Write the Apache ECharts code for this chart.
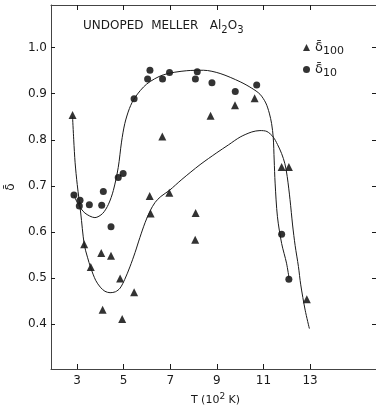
<!DOCTYPE html>
<html>
<head>
<meta charset="utf-8">
<script src="https://cdn.jsdelivr.net/npm/echarts@6/dist/echarts.min.js"></script>
<style>
  html, body { margin: 0; padding: 0; background: #fff; }
  #chart { width: 376px; height: 406px; }
</style>
</head>
<body>
<div id="chart"></div>
<script>
// measured points, [T (10^2 K), delta]
const d10Points = [
  [2.87, 0.680], [3.13, 0.669], [3.10, 0.656], [3.53, 0.659], [4.06, 0.658],
  [4.13, 0.688], [4.46, 0.611], [4.77, 0.718], [4.98, 0.727], [5.45, 0.889],
  [6.03, 0.932], [6.13, 0.951], [6.67, 0.932], [6.97, 0.946], [8.08, 0.932],
  [8.16, 0.948], [8.79, 0.924], [9.79, 0.905], [10.71, 0.919], [11.78, 0.595],
  [12.09, 0.497]
];
const d100Points = [
  [2.81, 0.854], [3.31, 0.573], [3.59, 0.524], [4.04, 0.554], [4.46, 0.548],
  [4.10, 0.431], [4.85, 0.499], [4.94, 0.411], [5.45, 0.469], [6.12, 0.678],
  [6.16, 0.640], [6.66, 0.807], [6.96, 0.685], [8.07, 0.583], [8.09, 0.641],
  [8.73, 0.852], [9.78, 0.875], [10.62, 0.890], [11.78, 0.741], [12.09, 0.741],
  [12.86, 0.454]
];
// hand drawn fit curves
const curve10 = [
  [2.87, 0.680], [3.05, 0.660], [3.34, 0.641], [3.77, 0.631], [4.10, 0.640],
  [4.35, 0.660], [4.56, 0.690], [4.77, 0.740], [4.91, 0.795], [5.05, 0.835],
  [5.25, 0.868], [5.49, 0.892], [5.99, 0.921], [6.70, 0.941], [7.71, 0.950],
  [8.43, 0.951], [9.14, 0.944], [10.0, 0.926], [10.5, 0.912], [10.85, 0.899],
  [11.10, 0.880], [11.25, 0.858], [11.35, 0.835], [11.42, 0.805], [11.46, 0.756],
  [11.50, 0.706], [11.60, 0.633], [11.78, 0.575], [11.99, 0.532], [12.10, 0.499]
];
const curve100 = [
  [2.81, 0.850], [2.86, 0.800], [2.92, 0.750], [3.01, 0.703], [3.16, 0.641],
  [3.31, 0.573], [3.45, 0.545], [3.59, 0.522], [3.80, 0.495], [4.00, 0.480],
  [4.20, 0.471], [4.42, 0.468], [4.65, 0.470], [4.85, 0.478], [5.05, 0.497],
  [5.27, 0.524], [5.49, 0.555], [5.70, 0.588], [5.92, 0.620], [6.13, 0.645],
  [6.35, 0.664], [6.60, 0.677], [6.96, 0.690], [7.50, 0.714], [8.28, 0.746],
  [9.00, 0.772], [9.50, 0.789], [10.0, 0.806], [10.5, 0.817], [10.85, 0.820],
  [11.15, 0.818], [11.42, 0.806], [11.60, 0.790], [11.78, 0.770], [11.92, 0.748],
  [12.02, 0.720], [12.14, 0.670], [12.25, 0.615], [12.36, 0.570], [12.50, 0.525],
  [12.60, 0.485], [12.79, 0.430], [12.97, 0.390]
];
const xTicks = [3, 5, 7, 9, 11, 13];
const yTicks = [0.4, 0.5, 0.6, 0.7, 0.8, 0.9, 1.0];

const FONT = 'DejaVu Sans';
const INK = '#1a1a1a';

const chart = echarts.init(document.getElementById('chart'), null, { renderer: 'canvas' });

const xBase = {
  type: 'value',
  min: 1.885,
  max: 16,
  splitLine: { show: false },
  axisLine: { show: true, lineStyle: { color: '#444', width: 1 } },
  axisTick: { show: true, inside: true, length: 5, customValues: xTicks, lineStyle: { color: INK } },
  axisLabel: { show: false }
};
const yBase = {
  type: 'value',
  min: 0.3023,
  max: 1.0927,
  splitLine: { show: false },
  axisLine: { show: true, lineStyle: { color: '#444', width: 1 } },
  axisTick: { show: true, inside: true, length: 4, customValues: yTicks, lineStyle: { color: INK } },
  axisLabel: { show: false }
};

chart.setOption({
  animation: false,
  textStyle: { fontFamily: FONT },
  grid: { left: 51, top: 5, right: -4, bottom: 37, containLabel: false, outerBoundsMode: 'none' },
  legend: {
    orient: 'vertical',
    left: 298,
    top: 36,
    itemWidth: 7,
    itemHeight: 7,
    itemGap: 6,
    data: ['d100', 'd10'],
    formatter: function (name) {
      return name === 'd100' ? '{m|δ̄}{s|100}' : '{m|δ̄}{s|10}';
    },
    textStyle: {
      color: INK,
      rich: {
        m: { fontSize: 13, fontFamily: FONT, color: INK },
        s: { fontSize: 11, fontFamily: FONT, color: INK, padding: [8, 0, 0, 0] }
      }
    }
  },
  xAxis: [
    Object.assign({}, xBase, {
      position: 'bottom',
      axisLabel: {
        show: true, customValues: xTicks, color: INK, fontSize: 12, margin: 6, fontFamily: FONT
      },
      name: '{a|T (10}{p|2}{a| K)}',
      nameLocation: 'middle',
      nameGap: 22,
      nameTextStyle: {
        rich: {
          a: { fontSize: 11, fontFamily: FONT, color: INK },
          p: { fontSize: 9, fontFamily: FONT, color: INK, padding: [0, 0, 7, 0] }
        }
      }
    }),
    Object.assign({}, xBase, { position: 'top' })
  ],
  yAxis: [
    Object.assign({}, yBase, {
      position: 'left',
      axisLabel: {
        show: true, customValues: yTicks, color: INK, fontSize: 12, margin: 4, fontFamily: FONT,
        formatter: v => v.toFixed(1)
      },
      name: 'δ̄',
      nameLocation: 'middle',
      nameRotate: 90,
      nameGap: 32,
      nameTextStyle: { fontSize: 12, color: INK, fontFamily: FONT }
    }),
    Object.assign({}, yBase, {
      position: 'right',
      axisLine: { show: false },
      axisTick: { show: true, inside: true, length: 8, customValues: yTicks, lineStyle: { color: INK } }
    })
  ],
  graphic: [{
    type: 'text',
    left: 83,
    top: 20,
    style: {
      text: '{a|UNDOPED  MELLER   Al}{s|2}{a|O}{s|3}',
      rich: {
        a: { fontSize: 12, fontFamily: FONT, fill: INK },
        s: { fontSize: 10, fontFamily: FONT, fill: INK, padding: [9, 0, 0, 0] }
      }
    }
  }],
  series: [
    {
      name: 'curve10', type: 'line', data: curve10, smooth: 0.3, showSymbol: false,
      lineStyle: { color: INK, width: 1 }, silent: true
    },
    {
      name: 'curve100', type: 'line', data: curve100, smooth: 0.3, showSymbol: false,
      lineStyle: { color: INK, width: 1 }, silent: true
    },
    {
      name: 'd100', type: 'scatter', data: d100Points, symbol: 'triangle', symbolSize: 8,
      itemStyle: { color: '#000' }
    },
    {
      name: 'd10', type: 'scatter', data: d10Points, symbol: 'circle', symbolSize: 7,
      itemStyle: { color: '#000' }
    }
  ]
});
</script>
</body>
</html>
